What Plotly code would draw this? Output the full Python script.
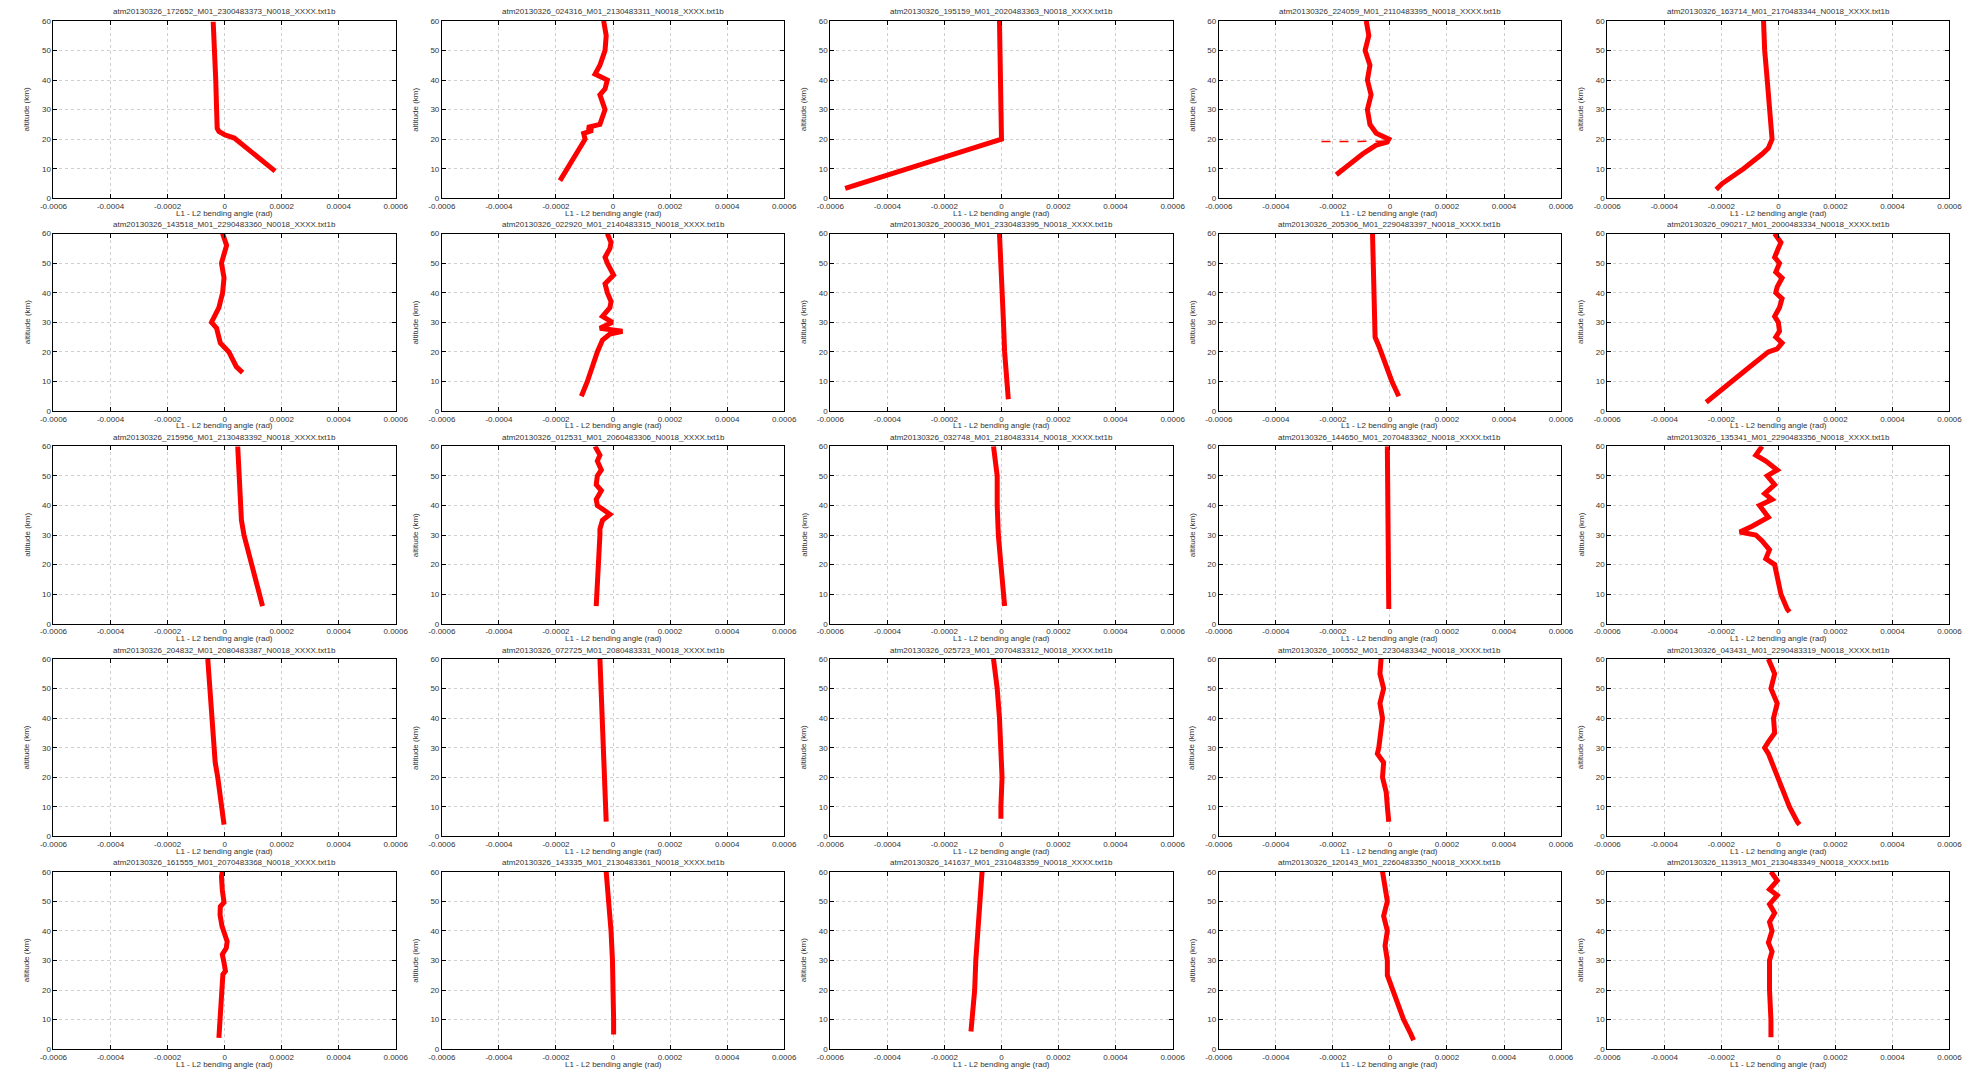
import plotly.graph_objects as go

# Profile titles (row-major, 5 x 5 grid)
titles = [
    "atm20130326_172652_M01_2300483373_N0018_XXXX.txt1b",
    "atm20130326_024316_M01_2130483311_N0018_XXXX.txt1b",
    "atm20130326_195159_M01_2020483363_N0018_XXXX.txt1b",
    "atm20130326_224059_M01_2110483395_N0018_XXXX.txt1b",
    "atm20130326_163714_M01_2170483344_N0018_XXXX.txt1b",
    "atm20130326_143518_M01_2290483360_N0018_XXXX.txt1b",
    "atm20130326_022920_M01_2140483315_N0018_XXXX.txt1b",
    "atm20130326_200036_M01_2330483395_N0018_XXXX.txt1b",
    "atm20130326_205306_M01_2290483397_N0018_XXXX.txt1b",
    "atm20130326_090217_M01_2000483334_N0018_XXXX.txt1b",
    "atm20130326_215956_M01_2130483392_N0018_XXXX.txt1b",
    "atm20130326_012531_M01_2060483306_N0018_XXXX.txt1b",
    "atm20130326_032748_M01_2180483314_N0018_XXXX.txt1b",
    "atm20130326_144650_M01_2070483362_N0018_XXXX.txt1b",
    "atm20130326_135341_M01_2290483356_N0018_XXXX.txt1b",
    "atm20130326_204832_M01_2080483387_N0018_XXXX.txt1b",
    "atm20130326_072725_M01_2080483331_N0018_XXXX.txt1b",
    "atm20130326_025723_M01_2070483312_N0018_XXXX.txt1b",
    "atm20130326_100552_M01_2230483342_N0018_XXXX.txt1b",
    "atm20130326_043431_M01_2290483319_N0018_XXXX.txt1b",
    "atm20130326_161555_M01_2070483368_N0018_XXXX.txt1b",
    "atm20130326_143335_M01_2130483361_N0018_XXXX.txt1b",
    "atm20130326_141637_M01_2310483359_N0018_XXXX.txt1b",
    "atm20130326_120143_M01_2260483350_N0018_XXXX.txt1b",
    "atm20130326_113913_M01_2130483349_N0018_XXXX.txt1b",
]

# Altitude (km) and L1 - L2 bending angle (1e-6 rad) for each profile
alt_01 = [59.7, 50, 40, 30, 23.7, 22.6, 21.5, 20.4, 15, 9.2]
ang_01 = [-40, -34, -31, -28, -26, -20, 0, 34, 105, 177]

alt_02 = [60, 55, 50, 45, 42, 40, 37, 35, 30, 27, 25, 24, 23, 22, 20, 6]
ang_02 = [-33, -24, -28, -46, -63, -20, -28, -46, -28, -37, -46, -90, -72, -103, -98, -186]

alt_03 = [60, 40, 25, 20, 17, 3.4]
ang_03 = [-7, -5, -3, 0, -100, -548]

alt_04 = [60, 55, 50, 45, 40, 35, 30, 25, 22, 21, 20, 19, 18, 15, 12, 8]
ang_04 = [-83, -74, -87, -70, -79, -66, -79, -70, -48, -26, -4, -10, -48, -96, -135, -188]

alt_04s = [19.2, 19.2, 19.3, 19.3]
ang_04s = [-240, -150, -80, -10]

alt_05 = [60, 50, 40, 35, 30, 25, 20, 17, 15, 10, 5, 3]
ang_05 = [-52, -48, -39, -35, -31, -26, -22, -35, -57, -122, -197, -218]

alt_06 = [60, 56, 53, 50, 45, 40, 35, 32, 30, 28, 26, 23, 20, 15, 13]
ang_06 = [-7, 7, -2, -11, -2, -7, -20, -33, -46, -28, -24, -15, 15, 41, 63]

alt_07 = [60, 57, 55, 52, 50, 46, 43, 40, 37, 35, 32, 30, 28, 27, 26, 24, 22, 20, 10, 5]
ang_07 = [-20, -7, -11, -28, -20, 2, -28, -20, -7, -11, -37, -2, -46, 33, -11, -37, -46, -55, -90, -111]

alt_08 = [60, 45, 30, 20, 10, 5, 4]
ang_08 = [-7, -2, 7, 11, 20, 24, 24]

alt_09 = [60, 40, 25, 22, 15, 10, 5]
ang_09 = [-61, -57, -52, -39, -13, 7, 31]

alt_10 = [60, 57, 55, 52, 50, 47, 45, 42, 40, 38, 35, 32, 30, 27, 25, 23, 21, 20, 15, 10, 5, 3]
ang_10 = [-13, 9, 0, -13, 4, -9, 13, -4, -9, 13, 4, -13, 0, 4, -9, 13, -4, -35, -100, -162, -223, -253]

alt_11 = [60, 50, 40, 35, 30, 25, 20, 15, 10, 6]
ang_11 = [46, 50, 55, 59, 68, 81, 94, 107, 120, 133]

alt_12 = [60, 57, 55, 52, 50, 47, 45, 42, 40, 37, 35, 32, 30, 20, 10, 6]
ang_12 = [-63, -46, -55, -41, -55, -59, -41, -59, -55, -11, -37, -46, -46, -50, -55, -59]

alt_13 = [60, 50, 40, 30, 20, 10, 6]
ang_13 = [-28, -15, -15, -11, -2, 7, 11]

alt_14 = [60, 30, 10, 5]
ang_14 = [-9, -4, -4, -4]

alt_15 = [60, 57, 55, 52, 50, 47, 44, 42, 40, 36, 33, 31, 30, 28, 25, 22, 20, 15, 10, 5, 4]
ang_15 = [-57, -79, -44, -4, -39, -13, -48, -22, -66, -35, -92, -135, -79, -57, -31, -44, -13, 0, 9, 31, 39]

alt_16 = [60, 40, 30, 25, 20, 10, 4]
ang_16 = [-59, -46, -37, -33, -24, -11, -2]

alt_17 = [60, 40, 20, 10, 5]
ang_17 = [-46, -37, -28, -24, -24]

alt_18 = [60, 50, 40, 30, 20, 10, 6]
ang_18 = [-28, -15, -7, -2, 2, -2, -2]

alt_19 = [60, 55, 50, 45, 40, 35, 30, 28, 25, 20, 15, 10, 5]
ang_19 = [-31, -35, -22, -35, -26, -31, -39, -44, -22, -26, -13, -9, -4]

alt_20 = [60, 55, 50, 45, 40, 35, 32, 30, 28, 25, 20, 15, 10, 5, 4]
ang_20 = [-35, -13, -26, -4, -17, -13, -35, -48, -35, -22, -4, 17, 39, 66, 74]

alt_21 = [60, 58.3, 53.8, 49.6, 48.2, 45.4, 41.5, 36.4, 34.2, 32, 29.2, 26.4, 25.3, 17.9, 10, 3.8]
ang_21 = [-8, -11, -8, -2, -15, -16, -9, 9, 6, -8, -2, 3, -6, -11, -17, -20]

alt_22 = [60, 50, 40, 30, 20, 10, 5]
ang_22 = [-24, -15, -7, -2, 2, 2, 2]

alt_23 = [60, 40, 30, 20, 10, 6]
ang_23 = [-68, -85, -90, -94, -103, -107]

alt_24 = [60, 55, 50, 45, 40, 35, 30, 25, 20, 15, 10, 5, 3]
ang_24 = [-26, -17, -9, -22, -9, -17, -9, -9, 9, 26, 48, 74, 83]

alt_25 = [60, 57, 54, 52, 49, 46, 43, 40, 36, 33, 30, 20, 10, 4]
ang_25 = [-26, -4, -31, -4, -31, -13, -31, -22, -35, -22, -31, -31, -26, -26]

altitudes = [alt_01, alt_02, alt_03, alt_04, alt_05, alt_06, alt_07, alt_08, alt_09, alt_10,
             alt_11, alt_12, alt_13, alt_14, alt_15, alt_16, alt_17, alt_18, alt_19, alt_20,
             alt_21, alt_22, alt_23, alt_24, alt_25]
angles = [ang_01, ang_02, ang_03, ang_04, ang_05, ang_06, ang_07, ang_08, ang_09, ang_10,
          ang_11, ang_12, ang_13, ang_14, ang_15, ang_16, ang_17, ang_18, ang_19, ang_20,
          ang_21, ang_22, ang_23, ang_24, ang_25]

x_ticks = [-0.0006, -0.0004, -0.0002, 0, 0.0002, 0.0004, 0.0006]
x_tick_text = ["-0.0006", "-0.0004", "-0.0002", "0", "0.0002", "0.0004", "0.0006"]
y_ticks = [0, 10, 20, 30, 40, 50, 60]

W, H = 1984, 1077
FONT = "Liberation Sans, Arial, sans-serif"
TXT = "#333333"
RED = "#ff0000"
GRID = "#cfcfcf"

# Panel geometry (pixels)
left0, pw, dx = 40, 347, 393.8
top0, ph, dy = 17, 179, 214.5

fig = go.Figure()
annotations = []

for i in range(25):
    r, c = divmod(i, 5)
    n = i + 1
    xa = "xaxis" if n == 1 else f"xaxis{n}"
    ya = "yaxis" if n == 1 else f"yaxis{n}"
    xr = "x" if n == 1 else f"x{n}"
    yr = "y" if n == 1 else f"y{n}"

    x0 = left0 + c * dx
    x1 = x0 + pw
    y0 = top0 + r * dy
    y1 = y0 + ph

    fig.add_trace(go.Scatter(
        x=[a * 1e-6 for a in angles[i]], y=altitudes[i],
        mode="lines", line=dict(color=RED, width=5),
        xaxis=xr, yaxis=yr, showlegend=False, hoverinfo="skip",
    ))
    if i == 3:
        fig.add_trace(go.Scatter(
            x=[a * 1e-6 for a in ang_04s], y=alt_04s,
            mode="lines", line=dict(color=RED, width=1.5, dash="dash"),
            xaxis=xr, yaxis=yr, showlegend=False, hoverinfo="skip",
        ))

    fig.layout[xa] = dict(
        domain=[x0 / W, x1 / W], anchor=yr, range=[-0.0006, 0.0006],
        tickvals=x_ticks, ticktext=x_tick_text,
        ticks="inside", ticklen=4, tickcolor="#000", mirror="ticks",
        showline=True, linecolor="#000", linewidth=1,
        showgrid=True, gridcolor=GRID, griddash="dot", gridwidth=1,
        zeroline=False, tickfont=dict(family=FONT, size=8, color=TXT),
        fixedrange=True,
    )
    fig.layout[ya] = dict(
        domain=[1 - y1 / H, 1 - y0 / H], anchor=xr, range=[0, 60],
        tickvals=y_ticks,
        ticks="inside", ticklen=4, tickcolor="#000", mirror="ticks",
        showline=True, linecolor="#000", linewidth=1,
        showgrid=True, gridcolor=GRID, griddash="dot", gridwidth=1,
        zeroline=False, tickfont=dict(family=FONT, size=8, color=TXT),
        fixedrange=True,
    )

    cx = (x0 + x1) / 2
    annotations.append(dict(
        text=titles[i], x=cx / W, y=1 - (y0 - 9) / H, xref="paper", yref="paper",
        showarrow=False, xanchor="center", yanchor="middle",
        font=dict(family=FONT, size=8, color=TXT),
    ))
    annotations.append(dict(
        text="L1 - L2 bending angle (rad)", x=cx / W, y=1 - (y1 + 15) / H,
        xref="paper", yref="paper", showarrow=False,
        xanchor="center", yanchor="middle",
        font=dict(family=FONT, size=8, color=TXT),
    ))
    annotations.append(dict(
        text="altitude (km)", x=(x0 - 27) / W, y=1 - ((y0 + y1) / 2) / H,
        xref="paper", yref="paper", showarrow=False, textangle=-90,
        xanchor="center", yanchor="middle",
        font=dict(family=FONT, size=8, color=TXT),
    ))

fig.update_layout(
    width=W, height=H, margin=dict(l=0, r=0, t=0, b=0),
    paper_bgcolor="white", plot_bgcolor="white",
    annotations=annotations,
)

fig.write_html("out.html")
